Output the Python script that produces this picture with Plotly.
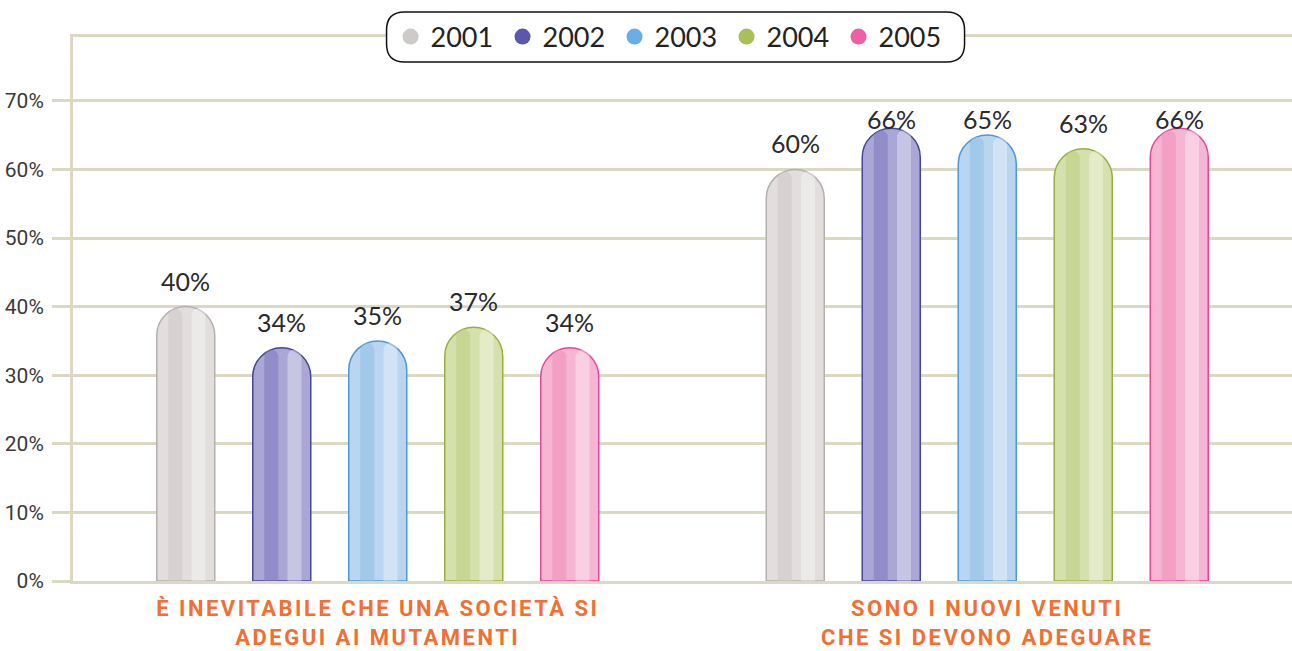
import plotly.graph_objects as go

categories = ["È INEVITABILE CHE UNA SOCIETÀ SI<br>ADEGUI AI MUTAMENTI",
              "SONO I NUOVI VENUTI<br>CHE SI DEVONO ADEGUARE"]
years = ["2001", "2002", "2003", "2004", "2005"]
values = {
    "2001": [40, 60],
    "2002": [34, 66],
    "2003": [35, 65],
    "2004": [37, 63],
    "2005": [34, 66],
}
y_tickvals = [0, 10, 20, 30, 40, 50, 60, 70]
y_ticktext = ["0%", "10%", "20%", "30%", "40%", "50%", "60%", "70%"]

fills = ["#e2dedd", "#aaa7d6", "#b9d5f0", "#d6e0ad", "#f6b5d2"]
stripes = ["#cdc8c7", "#7d79bd", "#8fbde6", "#bccd7c", "#ef8ebc"]
lines = ["#b5afae", "#45459a", "#4c98d8", "#98ae3e", "#e6479a"]
legend_cols = ["#cfcaca", "#5a57ad", "#6aaee6", "#a9bf5a", "#ef5fa5"]

slot = 96 / 609.5
bw = 58 / 609.5
sw = 14 / 609.5

fig = go.Figure()
x_idx = list(range(len(categories)))
annotations = []
for i, yr in enumerate(years):
    c = (i - 2) * slot
    fig.add_trace(go.Bar(
        x=x_idx, y=values[yr], width=bw, offset=c - bw / 2,
        marker=dict(color=fills[i], line=dict(color=lines[i], width=1.5), cornerradius="50%"),
        showlegend=False, hoverinfo="skip"))
    fig.add_trace(go.Bar(
        x=x_idx, y=[v - 0.3 for v in values[yr]], width=sw, offset=c - bw * 0.18 - sw / 2,
        marker=dict(color=stripes[i], opacity=0.55, line=dict(width=0), cornerradius="50%"),
        showlegend=False, hoverinfo="skip"))
    fig.add_trace(go.Bar(
        x=x_idx, y=[v - 0.3 for v in values[yr]], width=sw, offset=c + bw * 0.22 - sw / 2,
        marker=dict(color="#ffffff", opacity=0.35, line=dict(width=0), cornerradius="50%"),
        showlegend=False, hoverinfo="skip"))
    for k, v in zip(x_idx, values[yr]):
        annotations.append(dict(
            x=k + c, y=min(v + 3.8, 67.3), xref="x", yref="y", text=f"{v}%",
            showarrow=False, xanchor="center", yanchor="middle",
            font=dict(family="Lato, Open Sans, sans-serif", size=25, color="#2a2a2a")))

for i, yr in enumerate(years):
    fig.add_trace(go.Scatter(
        x=[None], y=[None], mode="markers", name=yr,
        marker=dict(symbol="circle", size=19, color=legend_cols[i])))

cat_text = ['<span style="letter-spacing:2.5px">' + t.replace("<br>", '</span><br><span style="letter-spacing:2.5px">') + "</span>"
            for t in categories]

grid = "#dcd9c3"
fig.update_layout(
    width=1292, height=651,
    margin=dict(l=73, r=0, t=37, b=70, autoexpand=False),
    paper_bgcolor="white", plot_bgcolor="white",
    barmode="overlay",
    annotations=annotations,
    xaxis=dict(
        tickvals=x_idx, ticktext=cat_text, range=[-0.5, 1.5],
        showline=True, linecolor=grid, linewidth=3, mirror=True,
        showgrid=False, zeroline=False, ticks="", automargin=False,
        ticklabelstandoff=6,
        tickfont=dict(family="Liberation Sans Narrow, Roboto, sans-serif", size=22, color="#f07033", weight="bold"),
    ),
    yaxis=dict(
        range=[0, 79.3], tickvals=y_tickvals, ticktext=y_ticktext,
        showgrid=True, gridcolor=grid, gridwidth=3,
        showline=True, linecolor=grid, linewidth=3, automargin=False,
        zeroline=False, ticks="outside", ticklen=18, tickwidth=3, tickcolor=grid,
        ticklabelstandoff=4,
        tickfont=dict(family="Liberation Sans Narrow, Roboto, sans-serif", size=21, color="#3a3a3a"),
    ),
    legend=dict(
        orientation="h", x=0.4902, xanchor="center", y=1, yanchor="middle",
        bgcolor="rgba(0,0,0,0)", borderwidth=0,
        font=dict(family="Lato, Open Sans, sans-serif", size=27, color="#222222"),
        entrywidth=67,
    ),
    shapes=[dict(
        type="path", xref="paper", yref="paper", xsizemode="pixel", ysizemode="pixel",
        xanchor=0.4943, yanchor=1,
        path="M -271 -25 L 271 -25 Q 289 -25 289 -7 L 289 7 Q 289 25 271 25 L -271 25 Q -289 25 -289 7 L -289 -7 Q -289 -25 -271 -25 Z",
        fillcolor="white", line=dict(color="#111111", width=1.5), layer="above")],
)

fig.write_html("out.html", config={"displayModeBar": False},
               post_script="document.body.style.margin='0';document.body.style.padding='0';document.body.style.overflow='hidden';")
